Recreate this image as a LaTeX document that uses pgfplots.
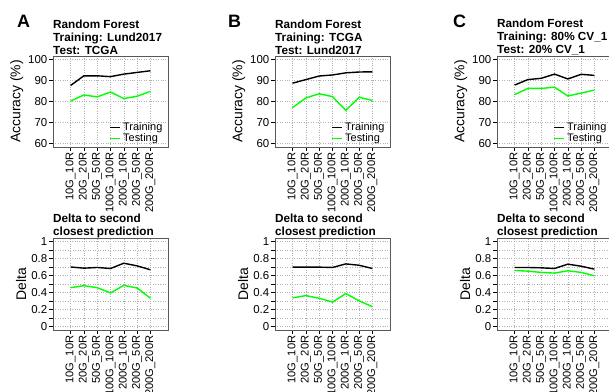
\documentclass[border=0pt]{standalone}
\usepackage{pgfplots}
\pgfplotsset{compat=1.18}
\usepackage{pgfplotstable}
\usepackage{fontspec}
\setmainfont{Liberation Sans}
\definecolor{tgreen}{RGB}{0,255,0}

% accuracy (%) per setting: x, training, testing
\pgfplotstableread{
x train test
0 87.6 80.2
1 92.2 83.1
2 92.2 82.2
3 91.8 84.5
4 93.0 81.4
5 93.8 82.5
6 94.6 84.8
}\accA
\pgfplotstableread{
x train test
0 88.7 77.1
1 90.4 81.7
2 92.1 83.7
3 92.6 82.3
4 93.6 75.8
5 94.0 82.0
6 94.1 80.5
}\accB
\pgfplotstableread{
x train test
0 87.8 83.3
1 90.4 86.2
2 91.0 86.2
3 93.0 86.8
4 90.7 82.6
5 92.9 84.0
6 92.4 85.4
}\accC
% delta to second closest prediction
\pgfplotstableread{
x train test
0 0.700 0.457
1 0.686 0.480
2 0.694 0.457
3 0.682 0.395
4 0.744 0.484
5 0.713 0.453
6 0.667 0.333
}\delA
\pgfplotstableread{
x train test
0 0.698 0.337
1 0.698 0.364
2 0.698 0.333
3 0.694 0.287
4 0.736 0.388
5 0.720 0.302
6 0.682 0.233
}\delB
\pgfplotstableread{
x train test
0 0.694 0.659
1 0.694 0.651
2 0.690 0.636
3 0.682 0.628
4 0.733 0.655
5 0.709 0.636
6 0.674 0.597
}\delC

\pgfplotsset{
  rbase/.style={
    scale only axis, width=115bp,
    axis line style={black!65, line width=0.6bp},
    xmin=-1.32, xmax=7.32,
    xtick={0,...,6},
    xticklabels={10G\_10R,20G\_20R,50G\_50R,100G\_100R,200G\_10R,200G\_50R,200G\_200R},
    xticklabel style={rotate=90, anchor=east, font=\fontsize{11.2}{12}\selectfont, inner sep=1.5bp},
    yticklabel style={font=\fontsize{11.5}{12}\selectfont, inner sep=1.5bp},
    tick align=outside, tick pos=left,
    major tick length=4bp, minor tick length=4bp,
    every tick/.style={black, line width=0.6bp},
    grid style={dotted, black!30, line width=0.5bp},
    /pgf/number format/assume math mode=true,
    ylabel style={font=\fontsize{14}{16}\selectfont},
    title style={at={(rel axis cs:0,1)}, anchor=south west, inner sep=0pt, align=left, font=\bfseries\fontsize{11.8}{13}\selectfont},
    every axis plot/.append style={line width=1.4bp},
  },
  acc/.style={rbase, height=91bp, ymin=58.4, ymax=101.6, ytick={60,70,...,100}, grid=major, ylabel={Accuracy (\%)},
    title style={yshift=-5bp},
    legend style={at={(rel axis cs:0.97,0.02)}, anchor=south east, draw=none, fill=none, font=\fontsize{11}{11}\selectfont, inner sep=0pt, row sep=-2.5bp, cells={anchor=west}},
    legend image code/.code={\draw[##1] (0bp,0bp) -- (10bp,0bp);},
  },
  del/.style={rbase, height=92bp, ymin=-0.04, ymax=1.04, ytick={0,0.2,...,1}, minor ytick={0.1,0.3,0.5,0.7,0.9}, grid=both, minor grid style={dotted, black!30, line width=0.5bp}, ylabel={Delta},
    title={Delta to second\\closest prediction}, title style={yshift=-6bp}},
}

\begin{document}
\begin{tikzpicture}
% top row
\begin{axis}[acc, at={(53bp,-56bp)}, anchor=north west, title={Random Forest\\Training: Lund2017\\Test: TCGA}]
\addplot[black] table[x=x,y=train] {\accA};
\addplot[tgreen] table[x=x,y=test] {\accA};
\legend{Training,Testing}
\end{axis}
\begin{axis}[acc, at={(275bp,-56bp)}, anchor=north west, title={Random Forest\\Training: TCGA\\Test: Lund2017}]
\addplot[black] table[x=x,y=train] {\accB};
\addplot[tgreen] table[x=x,y=test] {\accB};
\legend{Training,Testing}
\end{axis}
\begin{axis}[acc, at={(497bp,-56bp)}, anchor=north west, title={Random Forest\\Training: 80\% CV\_1\\Test: 20\% CV\_1}]
\addplot[black] table[x=x,y=train] {\accC};
\addplot[tgreen] table[x=x,y=test] {\accC};
\legend{Training,Testing}
\end{axis}
% bottom row
\begin{axis}[del, at={(53bp,-238bp)}, anchor=north west]
\addplot[black] table[x=x,y=train] {\delA};
\addplot[tgreen] table[x=x,y=test] {\delA};
\end{axis}
\begin{axis}[del, at={(275bp,-238bp)}, anchor=north west]
\addplot[black] table[x=x,y=train] {\delB};
\addplot[tgreen] table[x=x,y=test] {\delB};
\end{axis}
\begin{axis}[del, at={(497bp,-238bp)}, anchor=north west]
\addplot[black] table[x=x,y=train] {\delC};
\addplot[tgreen] table[x=x,y=test] {\delC};
\end{axis}
% panel letters
\node[font=\bfseries\fontsize{18}{18}\selectfont, anchor=base west, inner sep=0pt] at (17bp,-27bp) {A};
\node[font=\bfseries\fontsize{18}{18}\selectfont, anchor=base west, inner sep=0pt] at (228bp,-27bp) {B};
\node[font=\bfseries\fontsize{18}{18}\selectfont, anchor=base west, inner sep=0pt] at (453bp,-27bp) {C};
\pgfresetboundingbox
\path[use as bounding box] (0bp,0bp) rectangle (609bp,-392bp);
\end{tikzpicture}
\end{document}
